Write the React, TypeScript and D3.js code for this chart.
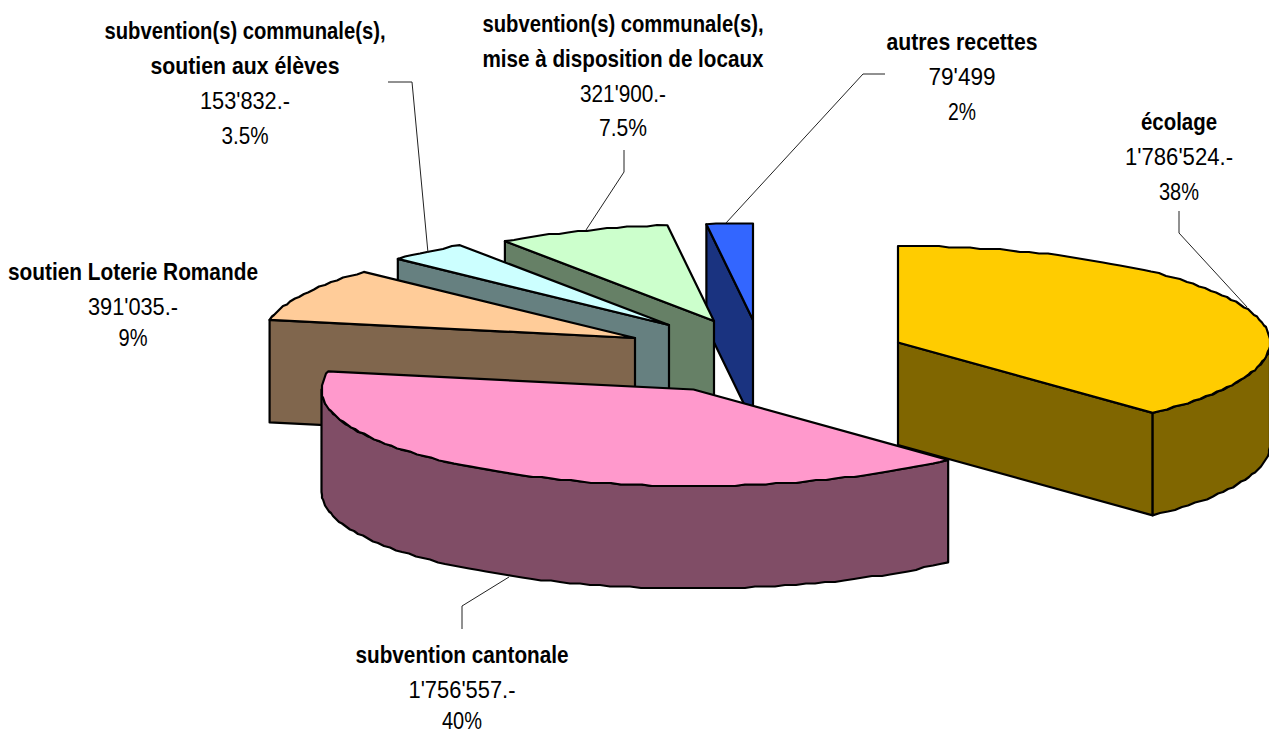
import React from "react";
import * as d3 from "d3";

// Shares of the budget, in the order they run clockwise from twelve o'clock.
const sliceNames = [
  "écolage",
  "subvention cantonale",
  "soutien Loterie Romande",
  "subvention(s) communale(s), soutien aux élèves",
  "subvention(s) communale(s), mise à disposition de locaux",
  "autres recettes",
];
const sliceShares = [38, 40, 9, 3.5, 7.5, 2];

const topColors = ["#FFCC00", "#FF99CC", "#FFCC99", "#CCFFFF", "#CCFFCC", "#3366FF"];
const wallColors = ["#806600", "#804D66", "#80664D", "#668080", "#668066", "#1A3380"];

// Where each exploded slice has its tip on the page.
const tipX = [898, 693.5, 635, 669, 714, 753];
const tipY = [342.5, 389.5, 338, 325, 321, 320];

// Painting order: the rear slices first.
const paintOrder = [5, 4, 3, 2, 0, 1];

const labelLines = [
  [{ t: "écolage", b: true }, { t: "1'786'524.-" }, { t: "38%" }],
  [{ t: "subvention cantonale", b: true }, { t: "1'756'557.-" }, { t: "40%" }],
  [{ t: "soutien Loterie Romande", b: true }, { t: "391'035.-" }, { t: "9%" }],
  [
    { t: "subvention(s) communale(s),", b: true },
    { t: "soutien aux élèves", b: true },
    { t: "153'832.-" },
    { t: "3.5%" },
  ],
  [
    { t: "subvention(s) communale(s),", b: true },
    { t: "mise à disposition de locaux", b: true },
    { t: "321'900.-" },
    { t: "7.5%" },
  ],
  [{ t: "autres recettes", b: true }, { t: "79'499" }, { t: "2%" }],
];
const labelCenterX = [1179, 462, 133, 245, 623, 962];
const labelBaseline = [
  [130, 165, 200],
  [663, 698, 729],
  [280, 315, 346],
  [39, 74, 109, 144],
  [32, 67, 102, 136],
  [50, 85, 120],
];
// The condensed lettering is fitted to these line widths.
const labelWidth = [
  [76, 108, 40],
  [213, 107, 40],
  [250, 90, 29],
  [281, 189, 90, 47],
  [281, 281, 86, 48],
  [151, 67, 28],
];

const leaderLines: [number, number][][] = [
  [[1179, 211], [1179, 233], [1247, 307]],
  [[462, 629], [462, 606], [509, 577]],
  [],
  [[388, 82], [412, 82], [428, 253]],
  [[624, 150], [624, 172], [586, 230]],
  [[885, 74], [863, 74], [726, 223]],
];

const W = 1269;
const H = 734;
const RX = 372;
const RY = 96.5;
const DEPTH = 102.5;
const ARC_STEP = 1.6; // degrees between the vertices of a rim
const RIM_GRID = 1.5; // vertical snapping of rim vertices, in pixels

const angleOf = d3.scaleLinear().domain([0, 2 * Math.PI]).range([0, 360]);
const unitX = d3.scaleLinear().domain([-1, 1]).range([-RX, RX]);
const unitY = d3.scaleLinear().domain([-1, 1]).range([-RY, RY]);
const rad = (deg: number) => (deg * Math.PI) / 180;

const rimPoint = (i: number, deg: number, drop = 0): [number, number] => [
  tipX[i] + unitX(Math.sin(rad(deg))),
  tipY[i] - unitY(Math.cos(rad(deg))) + drop,
];

// Rim vertices from one angle to another; inner vertices are snapped to a small
// grid, which gives the rim its slightly stepped edge.
function rim(i: number, from: number, to: number, drop = 0): [number, number][] {
  const n = Math.max(1, Math.round((to - from) / ARC_STEP));
  return d3.range(n + 1).map((k) => {
    const [x, y] = rimPoint(i, from + ((to - from) * k) / n, drop);
    if (k === 0 || k === n) return [x, y] as [number, number];
    return [Math.round(x), Math.round(y / RIM_GRID) * RIM_GRID] as [number, number];
  });
}

const closed = d3.line().curve(d3.curveLinearClosed);
const open = d3.line();

export default function App() {
  const arcs = d3.pie<number>().sort(null)(sliceShares);

  return (
    <svg
      width={W}
      height={H}
      viewBox={`0 0 ${W} ${H}`}
      style={{ position: "absolute", left: 0, top: 0, background: "#fff" }}
    >
      {paintOrder.map((i) => {
        const a = angleOf(arcs[i].startAngle);
        const b = angleOf(arcs[i].endAngle);
        const tip: [number, number] = [tipX[i], tipY[i]];
        const tipLow: [number, number] = [tipX[i], tipY[i] + DEPTH];
        const startWall = a > 180 && a < 360;
        const endWall = b > 0 && b < 180;
        const frontFrom = Math.max(a, 90);
        const frontTo = Math.min(b, 270);
        const style = { stroke: "#000", strokeWidth: 2.2, strokeLinejoin: "round" as const };
        return (
          <g key={sliceNames[i]}>
            {startWall && (
              <path
                d={closed([rimPoint(i, a), tip, tipLow, rimPoint(i, a, DEPTH)]) as string}
                fill={wallColors[i]}
                {...style}
              />
            )}
            {endWall && (
              <path
                d={closed([tip, rimPoint(i, b), rimPoint(i, b, DEPTH), tipLow]) as string}
                fill={wallColors[i]}
                {...style}
              />
            )}
            {frontFrom < frontTo && (
              <path
                d={
                  closed([
                    ...rim(i, frontFrom, frontTo),
                    ...rim(i, frontFrom, frontTo, DEPTH).reverse(),
                  ]) as string
                }
                fill={wallColors[i]}
                {...style}
              />
            )}
            <path d={closed([tip, ...rim(i, a, b)]) as string} fill={topColors[i]} {...style} />
          </g>
        );
      })}

      {leaderLines.map((pts, i) =>
        pts.length ? (
          <path key={i} d={open(pts) as string} fill="none" stroke="#222" strokeWidth={1} />
        ) : null
      )}

      {labelLines.map((lines, i) =>
        lines.map((line, k) => (
          <text
            key={`${i}-${k}`}
            x={labelCenterX[i] - labelWidth[i][k] / 2}
            y={labelBaseline[i][k]}
            textLength={labelWidth[i][k]}
            lengthAdjust="spacingAndGlyphs"
            fontFamily="'Liberation Sans', sans-serif"
            fontWeight={line.b ? 700 : 400}
            fontSize={24}
            fill="#000"
          >
            {line.t}
          </text>
        ))
      )}
    </svg>
  );
}
